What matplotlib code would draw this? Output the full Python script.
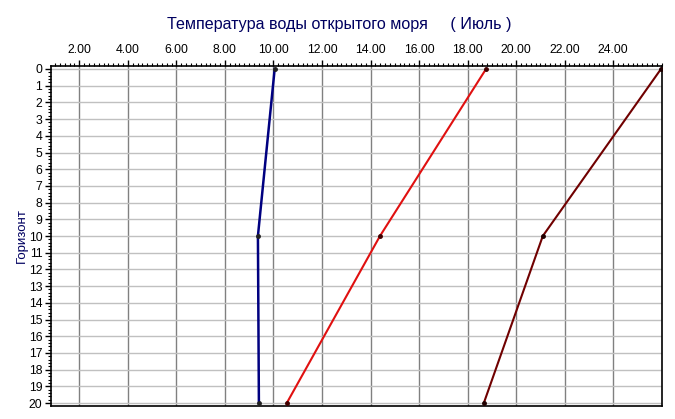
import numpy as np
import matplotlib
matplotlib.use("Agg")
import matplotlib.pyplot as plt
from matplotlib.ticker import MultipleLocator, FormatStrFormatter

plt.rcParams['font.family'] = ['Liberation Sans', 'DejaVu Sans']

# Data (temperature by depth)
depth = [0, 10, 20]
temp_blue = [10.05, 9.36, 9.40]
temp_red = [18.76, 14.39, 10.55]
temp_dark = [25.97, 21.10, 18.67]

x_ticks = [2, 4, 6, 8, 10, 12, 14, 16, 18, 20, 22, 24]
y_ticks = list(range(0, 21))

fig = plt.figure(figsize=(6.75, 4.19), dpi=100)
ax = fig.add_axes([0.0751, 0.031, 0.9052, 0.8115])

ax.set_xlim(0.82, 26.0)
ax.set_ylim(20.18, -0.18)

ax.xaxis.tick_top()
ax.set_xticks(x_ticks)
ax.xaxis.set_major_formatter(FormatStrFormatter('%.2f'))
ax.xaxis.set_minor_locator(MultipleLocator(0.2))
ax.set_yticks(y_ticks)
ax.yaxis.set_minor_locator(MultipleLocator(0.2))

ax.tick_params(axis='x', which='both', top=True, bottom=False)
ax.tick_params(axis='y', which='both', left=True, right=False)
ax.tick_params(axis='x', which='major', length=4, width=1, labelsize=8.8, pad=3)
ax.tick_params(axis='x', which='minor', length=2, width=0.8)
ax.tick_params(axis='y', which='major', length=4, width=1, labelsize=8.8, pad=2)
ax.tick_params(axis='y', which='minor', length=2, width=0.8)

for s in ax.spines.values():
    s.set_color('black')
    s.set_linewidth(1.2)

# grid: vertical darker, horizontal lighter
for xv in x_ticks:
    ax.axvline(xv, color='#808080', linewidth=1.0, zorder=0)
for yv in y_ticks:
    ax.axhline(yv, color='#c0c0c0', linewidth=1.0, zorder=0)

ax.plot(temp_blue, depth, color='#000080', linewidth=1.8, marker='o', markersize=2.5,
        markerfacecolor='#202020', markeredgecolor='#202020', zorder=3)
ax.plot(temp_red, depth, color='#e01010', linewidth=1.5, marker='o', markersize=2.5,
        markerfacecolor='#400000', markeredgecolor='#400000', zorder=3)
ax.plot(temp_dark, depth, color='#700000', linewidth=1.5, marker='o', markersize=2.5,
        markerfacecolor='#200000', markeredgecolor='#200000', zorder=3)

fig.text(0.503, 0.942, 'Температура воды открытого моря     ( Июль )', ha='center', va='center',
         fontsize=11.6, color='#000060')
ax.set_ylabel('Горизонт', color='#000060', fontsize=9.5, va='center')
ax.yaxis.set_label_coords(-0.047, 0.5)

fig.savefig('out.png', dpi=100)
